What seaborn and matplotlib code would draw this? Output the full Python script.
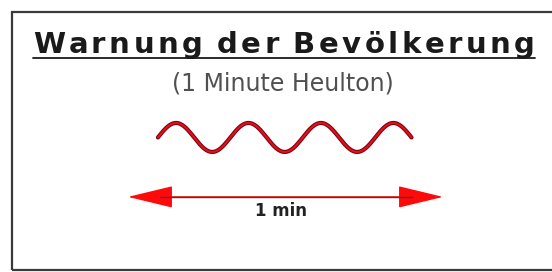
import numpy as np
import seaborn as sns
import matplotlib.pyplot as plt
from matplotlib.patches import Rectangle, FancyArrowPatch
from matplotlib.font_manager import FontProperties

# texts
title = "Warnung der Bevölkerung"
subtitle = "(1 Minute Heulton)"
span_label = "1 min"

# siren: one minute, wave drawn as 7 half cycles
span_min = [0.0, 1.0]
wave_start, wave_end = 0.095, 0.90
wave_half_cycles = 7

sns.set_theme(style="white")
plt.rcParams["font.family"] = ["DejaVu Sans"]

W, H = 552, 272
fig = plt.figure(figsize=(W / 100, H / 100), dpi=100)
fig.patch.set_facecolor("white")

# frame (cut off on the right)
fig.patches.append(Rectangle((12 / W, 2 / H), 2.0, 258 / H,
                             transform=fig.transFigure, fill=False,
                             edgecolor="#3a3a3a", linewidth=1.6))

ax = fig.add_axes([0, 0, 1, 1])
ax.set_xlim(-128 / 315, (W - 128) / 315)
ax.set_ylim(-9.28, 9.48)
ax.axis("off")

# wave
t = np.linspace(0, wave_half_cycles * np.pi, 400)
wx = wave_start + (wave_end - wave_start) * t / t[-1]
sns.lineplot(x=wx, y=np.sin(t), ax=ax, color="#7a0010", linewidth=3.0,
             sort=False, estimator=None)
sns.lineplot(x=wx, y=np.sin(t), ax=ax, color="#e0101c", linewidth=1.5,
             sort=False, estimator=None)

# arrow
arr_y = -4.1
ax.add_patch(FancyArrowPatch((span_min[0], arr_y), (span_min[1], arr_y),
                             arrowstyle="<|-|>,head_length=29,head_width=7",
                             mutation_scale=1, color="#ff0a0a",
                             linewidth=1, shrinkA=0, shrinkB=0))
ax.plot([span_min[0] + 0.1, span_min[1] - 0.1], [arr_y, arr_y],
        color="#5a3030", linewidth=1)
ax.text(0.485, arr_y - 1.0, span_label, ha="center", va="center",
        fontsize=12, fontweight="bold", color="#222222")

# title, letter-spaced between x=33 and x=535 px
prop = FontProperties(family="DejaVu Sans", weight="bold", size=21)
renderer = fig.canvas.get_renderer()
def adv(s):
    return renderer.get_text_width_height_descent(s, prop, ismath=False)[0]
x0, x1 = 33, 535
steps = [i for i in range(1, len(title)) if title[i] != " "]
gap = (x1 - x0 - adv(title)) / len(steps)
for i, ch in enumerate(title):
    if ch == " ":
        continue
    n = sum(1 for p in steps if p <= i)
    x = x0 + adv(title[:i]) + n * gap
    fig.text(x / W, 1 - 53 / H, ch, ha="left", va="baseline",
             fontproperties=prop, color="#1a1a1a")
fig.lines.append(plt.Line2D([x0 / W, x1 / W], [1 - 57.5 / H, 1 - 57.5 / H],
                            transform=fig.transFigure, color="#1a1a1a",
                            linewidth=1.3))
fig.text(283 / W, 1 - 83 / H, subtitle, ha="center", va="center",
         fontsize=17, color="#505050")

plt.savefig("out.png", dpi=100)
